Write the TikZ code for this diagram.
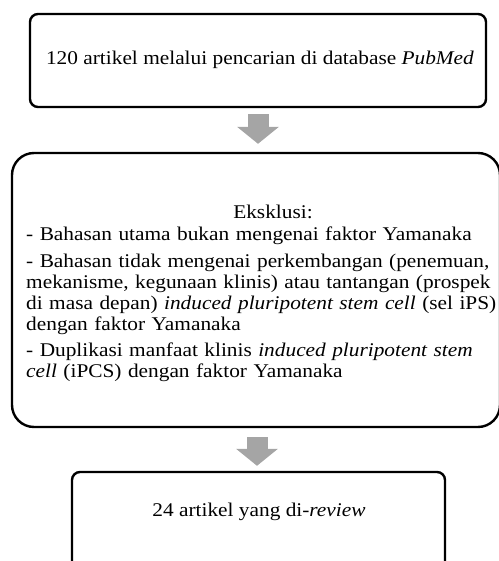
\documentclass[tikz,border=0pt]{standalone}
\usepackage{fontspec}
\setmainfont[FakeStretch=1.1]{Liberation Serif}
\usetikzlibrary{arrows.meta}
\definecolor{arrowgray}{HTML}{A5A5A5}
\tikzset{
  box/.style={draw=black, line width=2.4pt, rounded corners=8pt, inner sep=0pt},
  bigbox/.style={draw=black, line width=2.4pt, rounded corners=22pt, inner sep=0pt},
  txt/.style={inner sep=0pt, font=\fontsize{19.4}{21}\selectfont},
  blockarrow/.style={draw=arrowgray, line width=21pt, -{Triangle[width=41pt,length=17pt]}}
}
\begin{document}
\begin{tikzpicture}[x=1pt,y=-1pt]
\useasboundingbox (0,0) rectangle (498,561);
\node[box, minimum width=456pt, minimum height=93pt] (top) at (258,60.5) {};
\node[txt] (toptext) at (260,60) {120 artikel melalui pencarian di database \textit{PubMed}};
\node[bigbox, minimum width=488pt, minimum height=274pt] (mid) at (256,290) {};
\node[txt] (eks) at (273,212) {Eksklusi:};
\node[txt, anchor=north west, align=left, text width=520pt] (midtext) at (26,226.5) {%
- Bahasan utama bukan mengenai faktor Yamanaka\\[5.8pt]
- Bahasan tidak mengenai perkembangan (penemuan,\\
mekanisme, kegunaan klinis) atau tantangan (prospek\\
di masa depan) \textit{induced pluripotent stem cell} (sel iPS)\\
dengan faktor Yamanaka\\[5.8pt]
- Duplikasi manfaat klinis \textit{induced pluripotent stem}\\
\textit{cell} (iPCS) dengan faktor Yamanaka};
\node[box, minimum width=373pt, minimum height=128pt] (bot) at (258.5,536) {};
\node[txt] (bottext) at (259,512) {24 artikel yang di-\textit{review}};
\draw[blockarrow] ([yshift=-6pt]top.south) -- ([yshift=8pt]top.south |- mid.north);
\draw[blockarrow] ([xshift=1pt,yshift=-9pt]mid.south) -- ([xshift=1pt,yshift=5pt]mid.south |- bot.north);
\end{tikzpicture}
\end{document}
